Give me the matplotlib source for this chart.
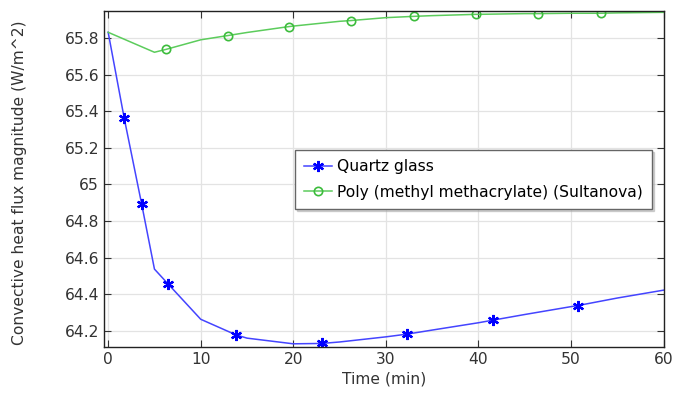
import matplotlib
matplotlib.use("Agg")
import matplotlib.pyplot as plt
from matplotlib.ticker import FuncFormatter

# time (min) and heat flux values
quartz_t = [0, 1.73, 3.61, 5, 6.49, 10, 13.8, 15, 20, 23.07, 25, 30, 32.3, 35,
            40, 41.55, 45, 50, 50.75, 55, 60]
quartz_q = [65.831, 65.363, 64.895, 64.538, 64.456, 64.264, 64.179, 64.161,
            64.130, 64.132, 64.140, 64.168, 64.183, 64.205, 64.245, 64.259,
            64.290, 64.333, 64.339, 64.380, 64.423]
quartz_marks = [1, 2, 4, 6, 9, 12, 15, 18]

pmma_t = [0, 5, 6.27, 10, 12.9, 15, 19.5, 20, 25, 26.2, 30, 33.0, 35, 39.7,
          40, 45, 46.45, 50, 53.2, 55, 60]
pmma_q = [65.831, 65.722, 65.738, 65.790, 65.813, 65.830, 65.862, 65.865,
          65.891, 65.895, 65.911, 65.918, 65.922, 65.929, 65.929, 65.933,
          65.933, 65.935, 65.935, 65.937, 65.940]
pmma_marks = [2, 4, 6, 9, 11, 13, 16, 18]

x_ticks = [0, 10, 20, 30, 40, 50, 60]
y_ticks = [64.2, 64.4, 64.6, 64.8, 65.0, 65.2, 65.4, 65.6, 65.8]

fs = 11.2

fig = plt.figure(figsize=(6.74, 3.93), dpi=100)
ax = fig.add_axes([0.1543, 0.1163, 0.8309, 0.8565])

ax.plot(quartz_t, quartz_q, color="#4444ff", lw=1.1, marker=(6, 2, 0),
        markevery=quartz_marks, markersize=8, markeredgewidth=1.6,
        markeredgecolor="blue", markerfacecolor="blue", label="Quartz glass")
ax.plot(pmma_t, pmma_q, color="#5ccc5c", lw=1.1, marker="o",
        markevery=pmma_marks, markersize=6, markerfacecolor="none",
        markeredgecolor="#3cbc3c", markeredgewidth=1.2,
        label="Poly (methyl methacrylate) (Sultanova)")

ax.set_xlim(-0.45, 60.05)
ax.set_ylim(64.111, 65.949)
ax.set_xticks(x_ticks)
ax.set_yticks(y_ticks)
ax.yaxis.set_major_formatter(FuncFormatter(lambda v, p: "%g" % round(v, 1)))
ax.grid(True, color="#e3e3e3", lw=0.9)
ax.set_axisbelow(True)
ax.tick_params(direction="in", top=True, right=True, length=5, labelsize=fs,
               colors="#333333", labelcolor="#333333")
for s in ax.spines.values():
    s.set_color("#222222")
    s.set_linewidth(1.0)

ax.set_xlabel("Time (min)", fontsize=fs, color="#333333")
ax.set_ylabel("Convective heat flux magnitude (W/m^2)", fontsize=fs,
              color="#333333")
ax.xaxis.set_label_coords(0.5, -0.072)
ax.yaxis.set_label_coords(-0.137, 0.49)

leg = ax.legend(loc="upper left", bbox_to_anchor=(0.341, 0.587),
                fontsize=fs, frameon=True, fancybox=False,
                shadow={"ox": 1.5, "oy": -1.5, "color": "#aaaaaa"},
                handlelength=1.75, borderpad=0.6, labelspacing=0.68,
                handletextpad=0.35, borderaxespad=0)
leg.get_frame().set_edgecolor("#666666")
leg.get_frame().set_linewidth(1.0)
leg.get_frame().set_alpha(1)

fig.savefig("out.png", dpi=100)
